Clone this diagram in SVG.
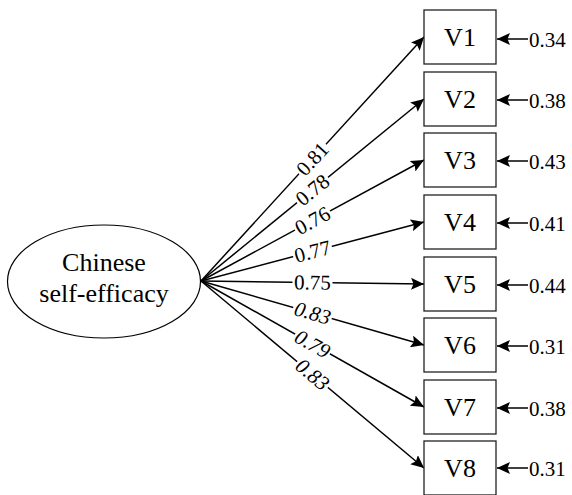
<svg xmlns="http://www.w3.org/2000/svg" width="572" height="495" viewBox="0 0 572 495" font-family="'Liberation Serif', 'Times New Roman', Times, 'DejaVu Serif', serif">
  <style>
    text { font-family: 'Liberation Serif', 'Times New Roman', Times, 'DejaVu Serif', serif; fill: #000; }
    .node-text { font-size: 26px; text-anchor: middle; }
    .coef { font-size: 21px; text-anchor: middle; }
    .err { font-size: 21px; }
    .box { fill: #fff; stroke: #222; stroke-width: 1.3; }
    .path { stroke: #000; stroke-width: 1.5; fill: none; marker-end: url(#head); }
    .mask { fill: #fff; }
    .it { font-style: italic; }
  </style>
  <defs>
    <marker id="head" viewBox="0 0 13 12" refX="13" refY="6" markerWidth="13" markerHeight="12" markerUnits="userSpaceOnUse" orient="auto">
      <path d="M0,0 L13,6 L0,12 L2.5,6 z" fill="#000"/>
    </marker>
  </defs>

  <!-- latent factor -->
  <g id="factor">
    <ellipse cx="104" cy="281.5" rx="96.5" ry="56.5" fill="#fff" stroke="#000" stroke-width="1.2"/>
    <text class="node-text" x="104" y="271">Chinese</text>
    <text class="node-text" x="104" y="302">self-efficacy</text>
  </g>

  <!-- loadings and error arrows -->
  <g id="connectors">
    <line class="path" x1="201" y1="281" x2="424" y2="37"/>
    <line class="path" x1="201" y1="281" x2="424" y2="99"/>
    <line class="path" x1="201" y1="281" x2="424" y2="160"/>
    <line class="path" x1="201" y1="281" x2="424" y2="222"/>
    <line class="path" x1="201" y1="281" x2="424" y2="284"/>
    <line class="path" x1="201" y1="281" x2="424" y2="345"/>
    <line class="path" x1="201" y1="281" x2="424" y2="407"/>
    <line class="path" x1="201" y1="281" x2="424" y2="468"/>

    <line class="path" x1="528" y1="39" x2="497" y2="39"/>
    <line class="path" x1="528" y1="100" x2="497" y2="100"/>
    <line class="path" x1="528" y1="161" x2="497" y2="161"/>
    <line class="path" x1="528" y1="223" x2="497" y2="223"/>
    <line class="path" x1="528" y1="285" x2="497" y2="285"/>
    <line class="path" x1="528" y1="346" x2="497" y2="346"/>
    <line class="path" x1="528" y1="408" x2="497" y2="408"/>
    <line class="path" x1="528" y1="468" x2="497" y2="468"/>
  </g>

  <!-- loading labels, centred on each path -->
  <g id="loadings">
    <g transform="translate(312.5,159) rotate(-47.6)">
      <rect class="mask" x="-20" y="-8" width="40" height="16"/>
      <text class="coef" y="7">0.81</text>
    </g>
    <g transform="translate(312.5,190) rotate(-39.2)">
      <rect class="mask" x="-20" y="-8" width="40" height="16"/>
      <text class="coef" y="7">0.78</text>
    </g>
    <g transform="translate(312.5,220.5) rotate(-28.5)">
      <rect class="mask" x="-20" y="-8" width="40" height="16"/>
      <text class="coef" y="7">0.76</text>
    </g>
    <g transform="translate(312.5,251.5) rotate(-14.8)">
      <rect class="mask" x="-20" y="-8" width="40" height="16"/>
      <text class="coef" y="7">0.77</text>
    </g>
    <g transform="translate(312.5,282.5) rotate(0.8)">
      <rect class="mask" x="-20" y="-8" width="40" height="16"/>
      <text class="coef" y="7">0.75</text>
    </g>
    <g transform="translate(312.5,313) rotate(16)">
      <rect class="mask" x="-20" y="-8" width="40" height="16"/>
      <text class="coef it" y="7">0.83</text>
    </g>
    <g transform="translate(312.5,344) rotate(29.5)">
      <rect class="mask" x="-20" y="-8" width="40" height="16"/>
      <text class="coef it" y="7">0.79</text>
    </g>
    <g transform="translate(312.5,374.5) rotate(40)">
      <rect class="mask" x="-20" y="-8" width="40" height="16"/>
      <text class="coef it" y="7">0.83</text>
    </g>
  </g>

  <!-- observed indicators -->
  <g id="V1"><rect class="box" x="424" y="10" width="72" height="54"/><text class="node-text" x="460" y="46">V1</text><text class="err" x="529" y="47">0.34</text></g>
  <g id="V2"><rect class="box" x="424" y="72" width="72" height="54"/><text class="node-text" x="460" y="108">V2</text><text class="err" x="529" y="108">0.38</text></g>
  <g id="V3"><rect class="box" x="424" y="133" width="72" height="54"/><text class="node-text" x="460" y="169">V3</text><text class="err" x="529" y="169">0.43</text></g>
  <g id="V4"><rect class="box" x="424" y="195" width="72" height="54"/><text class="node-text" x="460" y="231">V4</text><text class="err" x="529" y="231">0.41</text></g>
  <g id="V5"><rect class="box" x="424" y="257" width="72" height="54"/><text class="node-text" x="460" y="293">V5</text><text class="err" x="529" y="293">0.44</text></g>
  <g id="V6"><rect class="box" x="424" y="318" width="72" height="54"/><text class="node-text" x="460" y="354">V6</text><text class="err" x="529" y="354">0.31</text></g>
  <g id="V7"><rect class="box" x="424" y="380" width="72" height="54"/><text class="node-text" x="460" y="416">V7</text><text class="err" x="529" y="416">0.38</text></g>
  <g id="V8"><rect class="box" x="424" y="441" width="72" height="54"/><text class="node-text" x="460" y="477">V8</text><text class="err" x="529" y="476">0.31</text></g>
</svg>
